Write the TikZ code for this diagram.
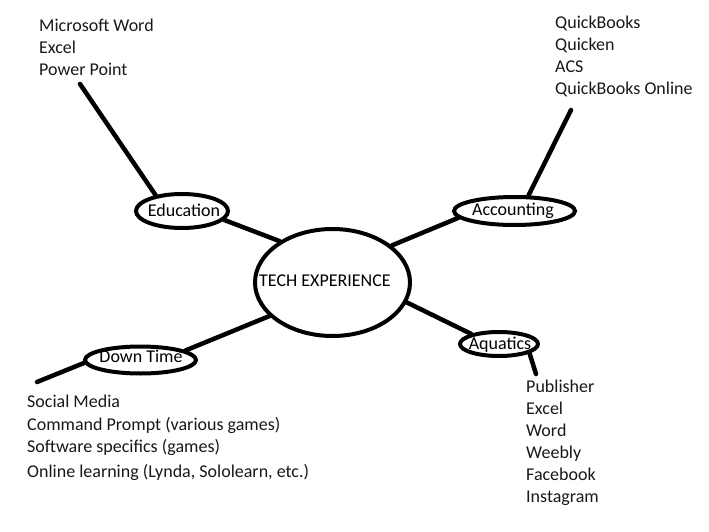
\documentclass[tikz,border=0pt]{standalone}
\usepackage{fontspec}
\setmainfont{Carlito}
\usetikzlibrary{shapes.geometric}
\newcommand\bubtext[3]{\makebox[0pt]{\hspace*{#1}\hspace*{#1}\raisebox{#2}[0pt][0pt]{#3}}}
\tikzset{
  bubble/.style={draw=black, ellipse, line width=4pt, inner sep=0pt, fill=white},
  link/.style={draw=black, line width=4.5pt, line cap=round},
  listtext/.style={anchor=base west, inner sep=0pt, text=black!90},
}
\begin{document}
\begin{tikzpicture}[x=1pt, y=-1pt, font=\fontsize{18}{22}\selectfont]
\useasboundingbox[fill=white] (0,0) rectangle (709,532);

% bubbles
\node[bubble, minimum width=155pt, minimum height=107pt] (tech) at (332.5,282.5) {\bubtext{-7.5pt}{-3.5pt}{TECH EXPERIENCE}};
\node[bubble, minimum width=92pt, minimum height=34pt] (edu) at (182,211) {\bubtext{2pt}{-5pt}{Education}};
\node[bubble, minimum width=121pt, minimum height=28pt] (acc) at (514.5,211) {\bubtext{-1.5pt}{-4.5pt}{Accounting}};
\node[bubble, minimum width=78pt, minimum height=24pt] (aq) at (499,344) {\bubtext{1pt}{-5pt}{Aquatics}};
\node[bubble, minimum width=111pt, minimum height=27pt] (dt) at (140.5,360) {\bubtext{0.5pt}{-2pt}{Down Time}};

% free ends
\coordinate (eduend) at (80,84);
\coordinate (accend) at (571,110);
\coordinate (aqend) at (536,374);
\coordinate (dtend) at (37,382);

% connectors
\draw[link] (edu.-12) -- (tech.142);
\draw[link] (tech.32) -- (acc.187);
\draw[link] (tech.-15) -- (aq.160);
\draw[link] (tech.208) -- (dt.12);
\draw[link] (edu.149) -- (eduend);
\draw[link] (acc.48) -- (accend);
\draw[link] (aq.-17) -- (aqend);
\draw[link] (dt.183) -- (dtend);

% lists
\node[listtext] (edulist) at (39,32) {\begin{tabular}[t]{@{}l@{}}Microsoft Word\\Excel\\Power Point\end{tabular}};
\node[listtext] (acclist) at (555,29) {\begin{tabular}[t]{@{}l@{}}QuickBooks\\Quicken\\ACS\\QuickBooks Online\end{tabular}};
\node[listtext] (aqlist) at (526,392) {\begin{tabular}[t]{@{}l@{}}Publisher\\Excel\\Word\\Weebly\\Facebook\\Instagram\end{tabular}};
\node[listtext] (dtlist) at (27,407) {\begin{tabular}[t]{@{}l@{}}Social Media\\[1pt]Command Prompt (various games)\\Software specifics (games)\\[3pt]Online learning (Lynda, Sololearn, etc.)\end{tabular}};
\end{tikzpicture}
\end{document}
